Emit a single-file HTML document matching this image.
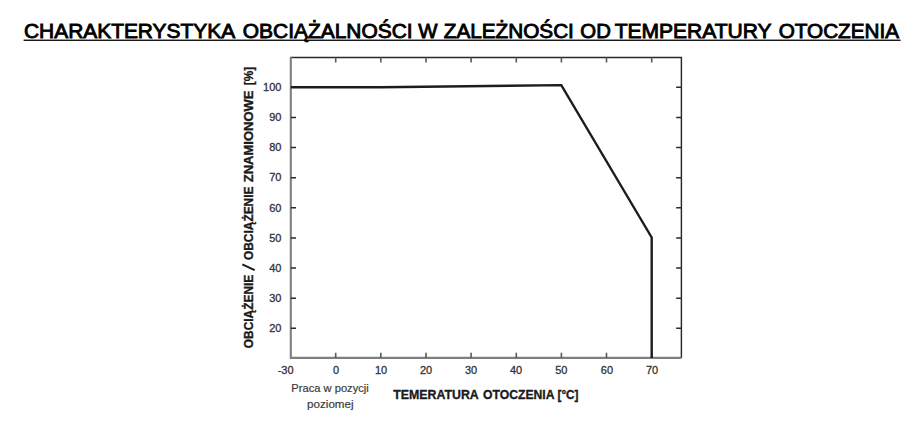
<!DOCTYPE html>
<html><head><meta charset="utf-8">
<style>
html,body{margin:0;padding:0;background:#fff;width:917px;height:442px;overflow:hidden}
svg{display:block}
text{font-family:"Liberation Sans",sans-serif}
</style></head>
<body>
<svg width="917" height="442" viewBox="0 0 917 442">
  <!-- title -->
  <g font-size="19.6" fill="#000" stroke="#000" stroke-width="0.85">
    <text x="24.00" y="37.7" textLength="211.10" lengthAdjust="spacingAndGlyphs">CHARAKTERYSTYKA</text>
    <text x="242.80" y="37.7" textLength="169.90" lengthAdjust="spacingAndGlyphs">OBCIĄŻALNOŚCI</text>
    <text x="418.22" y="37.7" textLength="19.26" lengthAdjust="spacingAndGlyphs">W</text>
    <text x="443.72" y="37.7" textLength="130.14" lengthAdjust="spacingAndGlyphs">ZALEŻNOŚCI</text>
    <text x="580.38" y="37.7" textLength="30.48" lengthAdjust="spacingAndGlyphs">OD</text>
    <text x="614.72" y="37.7" textLength="156.76" lengthAdjust="spacingAndGlyphs">TEMPERATURY</text>
    <text x="778.72" y="37.7" textLength="120.34" lengthAdjust="spacingAndGlyphs">OTOCZENIA</text>
  </g>
  <rect x="23.6" y="39.6" width="877" height="1.3" fill="#000"/>

  <!-- plot box -->
  <path d="M290.8 57.4H681.4V357.9" fill="none" stroke="#2a2a2a" stroke-width="1.45"/>
  <path d="M290.8 56.7V357.9H681.4" fill="none" stroke="#7f7f7f" stroke-width="2.1"/>
  <g stroke="#5a5a5a" stroke-width="1.6">
    <path d="M335.7 57.4v5.2 M380.8 57.4v5.2 M426.0 57.4v5.2 M471.1 57.4v5.2 M516.3 57.4v5.2 M561.4 57.4v5.2 M606.5 57.4v5.2 M651.7 57.4v5.2"/>
    <path d="M335.7 357.9v-5.2 M380.8 357.9v-5.2 M426.0 357.9v-5.2 M471.1 357.9v-5.2 M516.3 357.9v-5.2 M561.4 357.9v-5.2 M606.5 357.9v-5.2 M651.7 357.9v-5.2"/>
  </g>
  <g stroke="#2a2a2a" stroke-width="1.5">
    <path d="M290.8 117.4h5.2 M290.8 147.6h5.2 M290.8 177.7h5.2 M290.8 207.8h5.2 M290.8 237.9h5.2 M290.8 268.1h5.2 M290.8 298.2h5.2 M290.8 328.3h5.2"/>
    <path d="M681.4 87.3h-5.2 M681.4 117.4h-5.2 M681.4 147.6h-5.2 M681.4 177.7h-5.2 M681.4 207.8h-5.2 M681.4 237.9h-5.2 M681.4 268.1h-5.2 M681.4 298.2h-5.2 M681.4 328.3h-5.2"/>
  </g>
  <!-- data line -->
  <path d="M290.8 87.3 L380.5 87.2 L561.3 85.1 L651.7 237.5 L651.7 357.9" fill="none" stroke="#1c1c1c" stroke-width="2.4" stroke-linejoin="miter"/>

  <!-- y labels -->
  <g font-size="11" fill="#333" stroke="#333" stroke-width="0.3" text-anchor="end">
    <text x="281.4" y="91.0">100</text>
    <text x="281.4" y="121.1">90</text>
    <text x="281.4" y="151.3">80</text>
    <text x="281.4" y="181.4">70</text>
    <text x="281.4" y="211.5">60</text>
    <text x="281.4" y="241.6">50</text>
    <text x="281.4" y="271.8">40</text>
    <text x="281.4" y="301.9">30</text>
    <text x="281.4" y="332.0">20</text>
  </g>
  <!-- x labels -->
  <g font-size="11" fill="#333" stroke="#333" stroke-width="0.3" text-anchor="middle">
    <text x="285.6" y="374">-30</text>
    <text x="336" y="374">0</text>
    <text x="381" y="374">10</text>
    <text x="426" y="374">20</text>
    <text x="471.1" y="374">30</text>
    <text x="516" y="374">40</text>
    <text x="561.3" y="374">50</text>
    <text x="606.9" y="374">60</text>
    <text x="652.1" y="374">70</text>
  </g>
  <g font-size="11.3" fill="#3a3a3a" stroke="#3a3a3a" stroke-width="0.2">
    <text x="291.3" y="392" textLength="77.5" lengthAdjust="spacingAndGlyphs">Praca w pozycji</text>
    <text x="307.1" y="408.2" textLength="46.5" lengthAdjust="spacingAndGlyphs">poziomej</text>
  </g>
  <!-- x title -->
  <g font-size="13.5" font-weight="bold" fill="#1a1a1a" stroke="#1a1a1a" stroke-width="0.35">
    <text x="393.3" y="398.5" textLength="85.5" lengthAdjust="spacingAndGlyphs">TEMERATURA</text>
    <text x="483" y="398.5" textLength="71.5" lengthAdjust="spacingAndGlyphs">OTOCZENIA</text>
    <text x="557.5" y="398.5" textLength="21" lengthAdjust="spacingAndGlyphs">[°C]</text>
  </g>
  <!-- y title -->
  <g font-size="13.3" font-weight="bold" fill="#1a1a1a" stroke="#1a1a1a" stroke-width="0.35">
    <text transform="translate(252.8 348.2) rotate(-90)" textLength="73.5" lengthAdjust="spacingAndGlyphs">OBCIĄŻENIE</text>
    <path d="M242.3 264.4 L254.7 270.1" stroke="#1a1a1a" stroke-width="2.1" fill="none"/>
    <text transform="translate(252.8 260) rotate(-90)" textLength="73.5" lengthAdjust="spacingAndGlyphs">OBCIĄŻENIE</text>
    <text transform="translate(252.8 182.2) rotate(-90)" textLength="91.6" lengthAdjust="spacingAndGlyphs">ZNAMIONOWE</text>
    <text transform="translate(252.8 85.3) rotate(-90)" textLength="18.5" lengthAdjust="spacingAndGlyphs">[%]</text>
  </g>
</svg>
</body></html>
